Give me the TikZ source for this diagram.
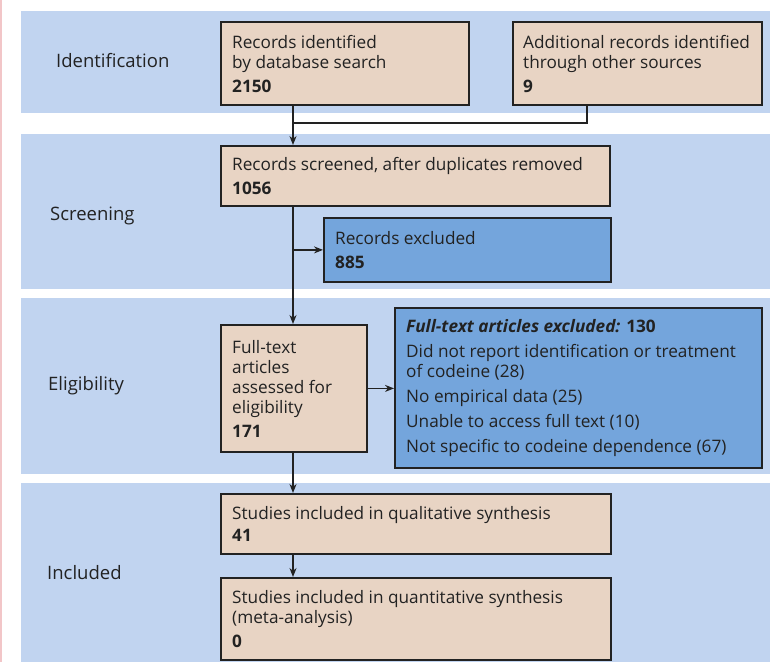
\documentclass[tikz,border=0pt]{standalone}
\usepackage{fontspec}
\setmainfont{Open Sans}
\usetikzlibrary{arrows.meta,calc}
\definecolor{band}{HTML}{C1D4F0}
\definecolor{beige}{HTML}{E8D4C4}
\definecolor{bluebox}{HTML}{74A5DC}
\definecolor{edge}{HTML}{222222}
\definecolor{pinkline}{HTML}{F2C6C8}
\tikzset{
  bandbox/.style={fill=band, draw=none},
  stagelabel/.style={anchor=base west, inner sep=0pt, font=\fontsize{18.5}{20}\selectfont, text=edge},
  flowbox/.style={draw=edge, line width=1.8pt, fill=beige, anchor=north west, inner sep=0pt},
  exclbox/.style={flowbox, fill=bluebox},
  boxtext/.style={anchor=west, align=left, inner sep=0pt, font=\fontsize{17.2}{20}\selectfont, text=edge},
  conn/.style={draw=edge, line width=1.4pt},
  arr/.style={conn, -{Stealth[length=9pt,width=7pt]}}
}
\begin{document}
\begin{tikzpicture}[x=1pt,y=-1pt]
\useasboundingbox (0,0) rectangle (776,662);
\fill[white] (0,0) rectangle (776,662);
\draw[pinkline, line width=1.5pt] (1,0) -- (1,662);
% bands
\fill[bandbox] (21,11) rectangle (770,113);
\fill[bandbox] (21,134) rectangle (770,289);
\fill[bandbox] (21,298) rectangle (770,474);
\fill[bandbox] (21,483) rectangle (770,662);
% stage labels
\node[stagelabel] (lid) at (56,67.5) {Identification};
\node[stagelabel] (lsc) at (50,220) {Screening};
\node[stagelabel] (lel) at (48,390) {Eligibility};
\node[stagelabel] (lin) at (47,579) {Included};
% boxes
\node[flowbox, minimum width=248pt, minimum height=83pt] (b1) at (220,21) {};
\node[flowbox, minimum width=249pt, minimum height=83pt] (b2) at (512,21) {};
\node[flowbox, minimum width=389pt, minimum height=60pt] (b3) at (220,145) {};
\node[exclbox, minimum width=287pt, minimum height=64pt] (b4) at (323,217) {};
\node[flowbox, minimum width=146pt, minimum height=127pt] (b5) at (220,324) {};
\node[exclbox, minimum width=367pt, minimum height=160pt] (b6) at (394,307) {};
\node[flowbox, minimum width=390pt, minimum height=60pt] (b7) at (220,493) {};
\node[flowbox, minimum width=390pt, minimum height=82pt] (b8) at (220,577) {};
% box texts
\node[boxtext] (t1) at ([xshift=12pt,yshift=-1pt]b1.west)
  {Records identified\\by database search\\[4pt]\textbf{2150}};
\node[boxtext] (t2) at ([xshift=11pt,yshift=-1pt]b2.west)
  {Additional records identified\\through other sources\\[4pt]\textbf{9}};
\node[boxtext] (t3) at ([xshift=12pt]b3.west)
  {Records screened, after duplicates removed\\[4pt]\textbf{1056}};
\node[boxtext] (t4) at ([xshift=12pt]b4.west)
  {Records excluded\\[4pt]\textbf{885}};
\node[boxtext] (t5) at ([xshift=12pt,yshift=-1pt]b5.west)
  {Full-text\\articles\\assessed for\\eligibility\\[4pt]\textbf{171}};
\node[boxtext] (t6) at ([xshift=12pt]b6.west)
  {\textbf{\textit{Full-text articles excluded:}} \textbf{130}\\[5pt]
   Did not report identification or treatment\\of codeine (28)\\[5pt]
   No empirical data (25)\\[5pt]
   Unable to access full text (10)\\[5pt]
   Not specific to codeine dependence (67)};
\node[boxtext] (t7) at ([xshift=12pt]b7.west)
  {Studies included in qualitative synthesis\\[2pt]\textbf{41}};
\node[boxtext] (t8) at ([xshift=12pt]b8.west)
  {Studies included in quantitative synthesis\\(meta-analysis)\\[4pt]\textbf{0}};
% connector guides
\coordinate (spine) at (293,0);
\coordinate (side) at (587,0);
\coordinate (joiny) at (0,123);
% connectors
\draw[arr] (b1.south -| spine) -- (b3.north -| spine);
\draw[conn] (b2.south -| side) -- (side |- joiny) -- (spine |- joiny);
\draw[arr] (b3.south -| spine) -- (b5.north -| spine);
\draw[arr] (spine |- b4.west) -- (b4.west);
\draw[arr] (b5.east) -- (b6.west |- b5.east);
\draw[arr] (b5.south -| spine) -- (b7.north -| spine);
\draw[arr] (b7.south -| spine) -- (b8.north -| spine);
\end{tikzpicture}
\end{document}
